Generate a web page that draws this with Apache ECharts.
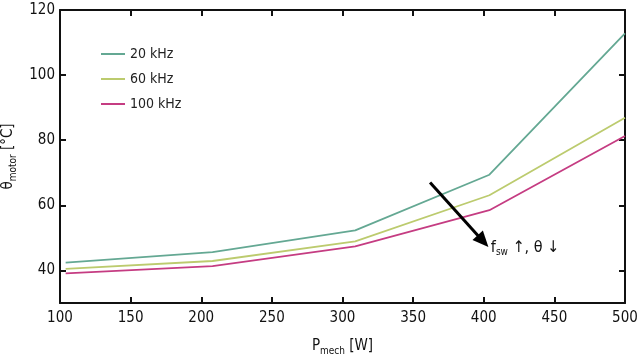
<!DOCTYPE html>
<html><head><meta charset="utf-8">
<script src="https://cdn.jsdelivr.net/npm/echarts@6/dist/echarts.min.js"></script>
<style>html,body{margin:0;padding:0;background:#fff}#c{width:640px;height:361px}</style>
</head><body><div id="c"></div>
<script>
const pmech = [104, 208, 309, 404, 500];
const theta20 = [42.4, 45.6, 52.3, 69.4, 112.8];
const theta60 = [40.5, 42.9, 48.9, 63.1, 86.9];
const theta100 = [39.1, 41.3, 47.4, 58.5, 81.3];
const seriesNames = ['20 kHz', '60 kHz', '100 kHz'];
const xTicks = [100, 150, 200, 250, 300, 350, 400, 450, 500];
const yTicks = [40, 60, 80, 100, 120];
const arrowFrom = [362, 67];
const arrowTo = [399.5, 49];
const annotPos = [405, 47.0];

const FONT = "'DejaVu Sans Condensed','DejaVu Sans',sans-serif";
const colors = ['#64a893', '#bccb6e', '#c53c82'];
const pair = (ys) => pmech.map((x, i) => [x, ys[i]]);
const axisLine = {show: true, lineStyle: {color: '#111', width: 2}};
const tick = {show: true, inside: true, length: 6, lineStyle: {color: '#111', width: 2}};

const chart = echarts.init(document.getElementById('c'), null, {renderer: 'canvas'});
chart.setOption({
  animation: false,
  color: colors,
  grid: {left: 60, right: 15, top: 10, bottom: 58, containLabel: false, outerBoundsMode: 'none'},
  legend: {
    orient: 'vertical', left: 96, top: 42, itemGap: 11,
    itemWidth: 24, itemHeight: 2, icon: 'rect',
    textStyle: {fontFamily: FONT, fontSize: 14, color: '#222'},
    data: seriesNames
  },
  xAxis: [{
    type: 'value', min: 100, max: 500, interval: 50,
    axisLine, axisTick: tick, splitLine: {show: false},
    axisLabel: {fontFamily: FONT, fontSize: 15, color: '#111', margin: 8,
      customValues: xTicks},
    name: '{a|P}{b|mech}{a| [W]}', nameLocation: 'middle', nameGap: 33,
    nameTextStyle: {fontFamily: FONT, color: '#111',
      rich: {a: {fontFamily: FONT, fontSize: 15, color: '#111'},
             b: {fontFamily: FONT, fontSize: 10, color: '#111', padding: [10, 0, 0, 0]}}}
  }, {
    type: 'value', position: 'top', min: 100, max: 500, interval: 50,
    axisLine, axisTick: tick, axisLabel: {show: false}, splitLine: {show: false}
  }],
  yAxis: [{
    type: 'value', min: 30, max: 120, interval: 20,
    axisLine, axisTick: {...tick, customValues: yTicks}, splitLine: {show: false},
    axisLabel: {fontFamily: FONT, fontSize: 15, color: '#111', margin: 5,
      customValues: yTicks},
    name: '{a|θ}{b|motor}{a| [°C]}', nameLocation: 'middle', nameGap: 39,
    nameTextStyle: {fontFamily: FONT, color: '#111',
      rich: {a: {fontFamily: FONT, fontSize: 15, color: '#111'},
             b: {fontFamily: FONT, fontSize: 10, color: '#111', padding: [10, 0, 0, 0]}}}
  }, {
    type: 'value', position: 'right', min: 30, max: 120, interval: 20,
    axisLine, axisTick: {...tick, customValues: yTicks}, axisLabel: {show: false}, splitLine: {show: false}
  }],
  series: [
    {name: seriesNames[0], type: 'line', data: pair(theta20), symbol: 'none',
      lineStyle: {width: 1.8}},
    {name: seriesNames[1], type: 'line', data: pair(theta60), symbol: 'none',
      lineStyle: {width: 1.8}},
    {name: seriesNames[2], type: 'line', data: pair(theta100), symbol: 'none',
      lineStyle: {width: 1.8},
      markLine: {
        silent: true, symbol: ['none', 'triangle'], symbolSize: [14, 16],
        lineStyle: {color: '#000', width: 3, type: 'solid'},
        itemStyle: {color: '#000'},
        label: {show: false},
        data: [[{coord: arrowFrom}, {coord: arrowTo}]]
      },
      markPoint: {
        silent: true, symbol: 'circle', symbolSize: 0,
        data: [{coord: annotPos}],
        label: {show: true, position: 'right', distance: 0,
          formatter: '{a|f}{b|sw}{a| ↑, θ ↓}',
          rich: {a: {fontFamily: FONT, fontSize: 16, color: '#111'},
                 b: {fontFamily: FONT, fontSize: 10, color: '#111', padding: [10, 0, 0, 0]}}}
      }}
  ]
});
</script></body></html>
